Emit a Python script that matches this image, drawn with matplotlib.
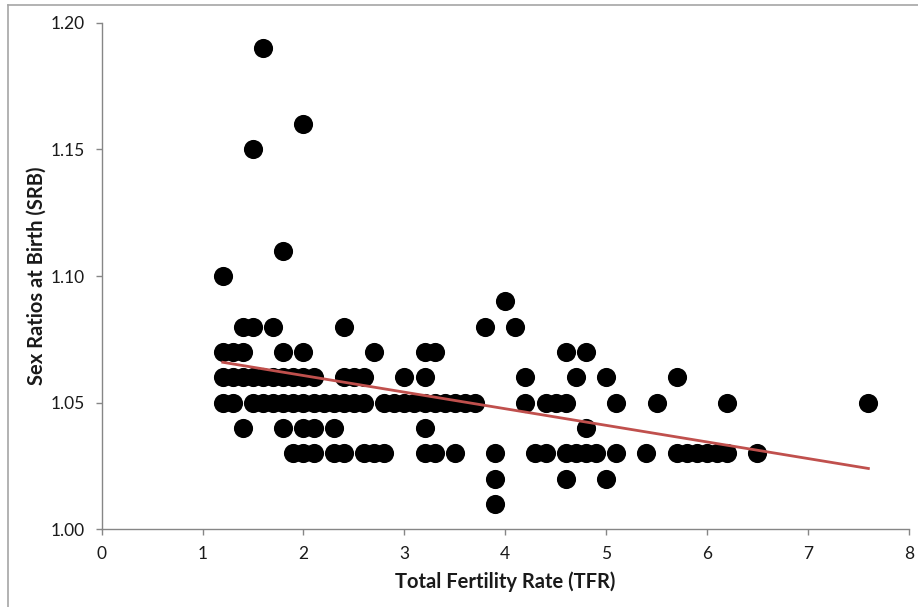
import numpy as np
import matplotlib
matplotlib.use("Agg")
import matplotlib.pyplot as plt
from matplotlib.lines import Line2D

plt.rcParams['font.family'] = ['Lato', 'DejaVu Sans']

# TFR values grouped by their sex ratio at birth
tfr_119 = [1.6]
tfr_116 = [2.0]
tfr_115 = [1.5]
tfr_111 = [1.8]
tfr_110 = [1.2]
tfr_109 = [4.0]
tfr_108 = [1.4, 1.5, 1.7, 2.4, 3.8, 4.1]
tfr_107 = [1.2, 1.3, 1.4, 1.8, 2.0, 2.7, 3.2, 3.3, 4.6, 4.8]
tfr_106 = [1.2, 1.3, 1.4, 1.5, 1.6, 1.7, 1.8, 1.9, 2.0, 2.1, 2.4, 2.5, 2.6,
           3.0, 3.2, 4.2, 4.7, 5.0, 5.7]
tfr_105 = [1.2, 1.3, 1.5, 1.6, 1.7, 1.8, 1.9, 2.0, 2.1, 2.2, 2.3, 2.4, 2.5, 2.6,
           2.8, 2.9, 3.0, 3.1, 3.2, 3.3, 3.4, 3.5, 3.6, 3.7,
           4.2, 4.4, 4.5, 4.6, 5.1, 5.5, 6.2, 7.6]
tfr_104 = [1.4, 1.8, 2.0, 2.1, 2.3, 3.2, 4.8]
tfr_103 = [1.9, 2.0, 2.1, 2.3, 2.4, 2.6, 2.7, 2.8, 3.2, 3.3, 3.5, 3.9,
           4.3, 4.4, 4.6, 4.7, 4.8, 4.9, 5.1, 5.4, 5.7, 5.8, 5.9, 6.0, 6.1, 6.2, 6.5]
tfr_102 = [3.9, 4.6, 5.0]
tfr_101 = [3.9]

groups = [(1.19, tfr_119), (1.16, tfr_116), (1.15, tfr_115), (1.11, tfr_111),
          (1.10, tfr_110), (1.09, tfr_109), (1.08, tfr_108), (1.07, tfr_107),
          (1.06, tfr_106), (1.05, tfr_105), (1.04, tfr_104), (1.03, tfr_103),
          (1.02, tfr_102), (1.01, tfr_101)]

tfr = []
srb = []
for s, xs in groups:
    tfr += xs
    srb += [s] * len(xs)
tfr = np.array(tfr)
srb = np.array(srb)

x_ticks = [0, 1, 2, 3, 4, 5, 6, 7, 8]
y_ticks = [1.00, 1.05, 1.10, 1.15, 1.20]

axis_col = '#868686'
text_col = '#1a1a1a'

fig = plt.figure(figsize=(9.18, 6.07), dpi=100)
ax = fig.add_axes([0.1108, 0.128, 0.8791, 0.8346])

ax.scatter(tfr, srb, s=190, color='black', zorder=3, linewidths=0)

# linear trendline
k, b = np.polyfit(tfr, srb, 1)
xl = np.array([tfr.min(), tfr.max()])
ax.plot(xl, k * xl + b, color='#C0504D', lw=2.0, zorder=4)

ax.set_xlim(0, 8)
ax.set_ylim(1.0, 1.2)
ax.set_xticks(x_ticks)
ax.set_yticks(y_ticks)
ax.set_xticklabels([str(v) for v in x_ticks])
ax.set_yticklabels(['%.2f' % v for v in y_ticks])

for sp in ['top', 'right']:
    ax.spines[sp].set_visible(False)
for sp in ['left', 'bottom']:
    ax.spines[sp].set_color(axis_col)
    ax.spines[sp].set_linewidth(1.0)
ax.tick_params(axis='both', direction='out', length=4, width=1, color=axis_col,
               labelsize=12.5, labelcolor=text_col)
ax.tick_params(axis='x', pad=8)
ax.tick_params(axis='y', pad=8)

ax.set_xlabel('Total Fertility Rate (TFR)', fontsize=14.5, fontweight='bold',
              color=text_col, labelpad=7)
ax.set_ylabel('Sex Ratios at Birth (SRB)', fontsize=14.5, fontweight='bold',
              color=text_col, labelpad=3)

# chart border (left and top visible)
fig.add_artist(Line2D([8 / 918, 8 / 918], [0, 1 - 5 / 607], color='#A6A6A6', lw=1.2,
                      transform=fig.transFigure))
fig.add_artist(Line2D([8 / 918, 1], [1 - 5 / 607, 1 - 5 / 607], color='#A6A6A6', lw=1.2,
                      transform=fig.transFigure))

fig.savefig('out.png', dpi=100)
